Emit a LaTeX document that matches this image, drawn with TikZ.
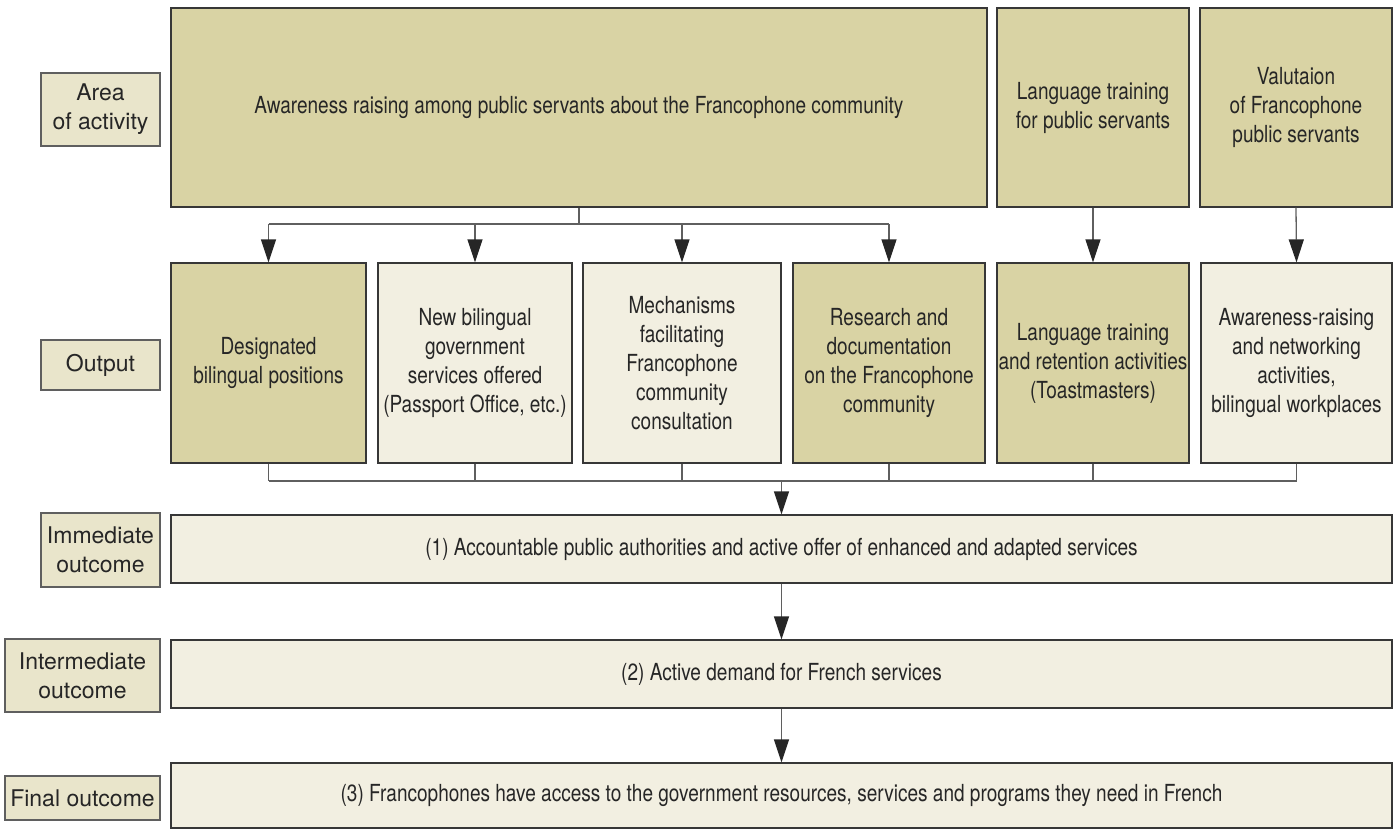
\documentclass[tikz,border=0pt]{standalone}
\usepackage{fontspec}
\setmainfont{TeX Gyre Heros}
\newfontfamily\cond[FakeStretch=0.81]{TeX Gyre Heros}
\usetikzlibrary{arrows.meta}
\definecolor{dk}{RGB}{217,211,164}
\definecolor{lt}{RGB}{242,239,225}
\definecolor{lb}{RGB}{233,229,203}
\definecolor{bd}{RGB}{55,55,55}
\definecolor{ln}{RGB}{95,95,95}
\definecolor{tx}{RGB}{38,38,38}
\tikzset{
 box/.style={draw=bd, line width=1.2pt, inner sep=0pt, align=center, text=tx, font=\cond\fontsize{23.5}{29}\selectfont},
 dbox/.style={box, fill=dk},
 lbox/.style={box, fill=lt},
 lab/.style={draw=ln, line width=1.2pt, fill=lb, inner sep=0pt, align=center, text=tx, font=\fontsize{23}{29}\selectfont},
 conn/.style={draw=ln, line width=1.3pt},
 arr/.style={conn, -{Triangle[width=15pt,length=23pt,color=black!85]}},
}
\begin{document}
\begin{tikzpicture}[x=1pt,y=-1pt]
\useasboundingbox (0,0) rectangle (1394,829);
% labels
\node[lab, minimum width=119pt, minimum height=73pt] (lArea) at (100.5,109.5) {Area\\of activity};
\node[lab, minimum width=119pt, minimum height=50pt] (lOut) at (100.5,365) {Output};
\node[lab, minimum width=119pt, minimum height=74pt] (lImm) at (100.5,550) {Immediate\\outcome};
\node[lab, minimum width=155pt, minimum height=73pt] (lInt) at (82.5,675.5) {Intermediate\\outcome};
\node[lab, minimum width=155pt, minimum height=44pt] (lFin) at (82.5,798) {Final outcome};
% activity row
\node[dbox, minimum width=816pt, minimum height=199pt] (main) at (579,107.5) {Awareness raising among public servants about the Francophone community};
\node[dbox, minimum width=192pt, minimum height=199pt] (lang) at (1093,107.5) {Language training\\for public servants};
\node[dbox, minimum width=192pt, minimum height=199pt] (val) at (1296,107.5) {Valutaion\\of Francophone\\public servants};
% output row
\node[dbox, minimum width=195pt, minimum height=200pt] (o1) at (268.5,363) {Designated\\bilingual positions};
\node[lbox, minimum width=194pt, minimum height=200pt] (o2) at (475,363) {New bilingual\\government\\services offered\\(Passport Office, etc.)};
\node[lbox, minimum width=198pt, minimum height=200pt] (o3) at (682,363) {Mechanisms\\facilitating\\Francophone\\community\\consultation};
\node[dbox, minimum width=192pt, minimum height=200pt] (o4) at (889,363) {Research and\\documentation\\on the Francophone\\community};
\node[dbox, minimum width=192pt, minimum height=200pt] (o5) at (1093,363) {Language training\\and retention activities\\(Toastmasters)};
\node[lbox, minimum width=191pt, minimum height=200pt] (o6) at (1296.5,363) {Awareness-raising\\and networking\\activities,\\bilingual workplaces};
% outcomes
\node[lbox, minimum width=1221pt, minimum height=68pt] (imm) at (781.5,549) {(1) Accountable public authorities and active offer of enhanced and adapted services};
\node[lbox, minimum width=1221pt, minimum height=68pt] (int) at (781.5,674) {(2) Active demand for French services};
\node[lbox, minimum width=1221pt, minimum height=65pt] (fin) at (781.5,795.5) {(3) Francophones have access to the government resources, services and programs they need in French};
% branch from main
\coordinate (b) at (579,224);
\draw[conn] (main.south) -- (b);
\draw[conn] (o1.north |- b) -- (o4.north |- b);
\foreach \o in {o1,o2,o3,o4}{\draw[arr] (\o.north |- b) -- (\o.north);}
\draw[arr] (lang.south) -- (o5.north);
\draw[arr] (val.south) -- (o6.north);
% merge
\coordinate (m) at (781.5,481);
\foreach \o in {o1,o2,o3,o4,o5,o6}{\draw[conn] (\o.south) -- (\o.south |- m);}
\draw[conn] (o1.south |- m) -- (o6.south |- m);
\draw[arr] (m) -- (imm.north);
\draw[arr] (imm.south) -- (int.north);
\draw[arr] (int.south) -- (fin.north);
\end{tikzpicture}
\end{document}
